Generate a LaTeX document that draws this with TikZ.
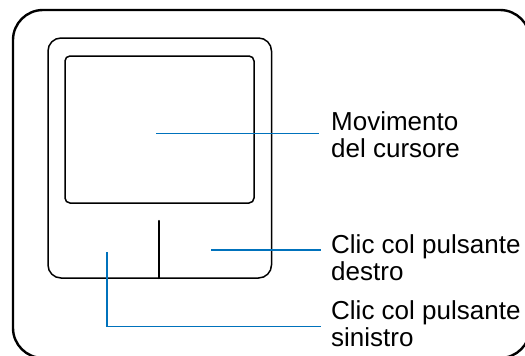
\documentclass[tikz,border=0pt]{standalone}
\usepackage{fontspec}
\setmainfont{Liberation Sans}
\definecolor{leadblue}{RGB}{0,114,188}
\begin{document}
\begin{tikzpicture}[x=1pt,y=-1pt,
  frame/.style={draw=black,line width=2.4pt},
  padline/.style={draw=black,line width=1.5pt},
  divider/.style={draw=black,line width=2.5pt,line cap=round},
  lead/.style={draw=leadblue,line width=1.5pt},
  label/.style={inner sep=0pt,anchor=base west,align=left,font=\fontsize{26}{27}\selectfont}]
\useasboundingbox (0,0) rectangle (525,356);
\clip (0,0) rectangle (525,356);
% outer frame
\draw[frame,rounded corners=30pt] (13,10) rectangle (530,358);
% touchpad body
\draw[padline,rounded corners=13pt] (48,38) rectangle (271.5,278);
% touch surface
\draw[padline,rounded corners=5pt] (65,56) rectangle (254,203);
% button divider
\coordinate (dtop) at (159,221);
\coordinate (dbot) at (159,278);
\draw[divider] (dbot) -- (dtop);
% labels (anchor = baseline of the last line)
\node[label] (mov) at (331,157.5) {Movimento\\del cursore};
\node[label] (dx) at (331,280) {Clic col pulsante\\destro};
\node[label] (sx) at (331,346) {Clic col pulsante\\sinistro};
% leader ends
\coordinate (p1) at (156,133.5);
\coordinate (e1) at (319,133.5);
\coordinate (p2) at (211,250);
\coordinate (e2) at (321,250);
\coordinate (p3) at (107,252);
\coordinate (k3) at (107,326.5);
\coordinate (e3) at (321,326.5);
\draw[lead] (p1) -- (e1);
\draw[lead] (p2) -- (e2);
\draw[lead] (p3) -- (k3) -- (e3);
\end{tikzpicture}
\end{document}
